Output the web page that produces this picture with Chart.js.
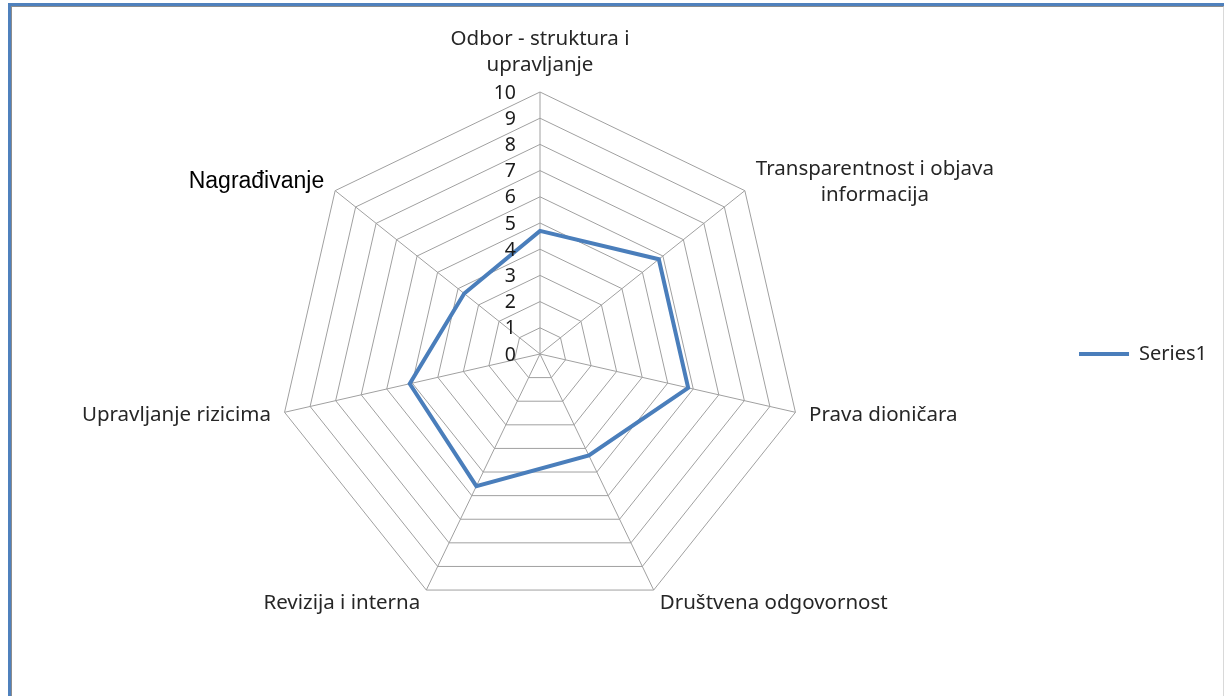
<!DOCTYPE html>
<html>
<head>
<meta charset="utf-8">
<script src="https://cdn.jsdelivr.net/npm/chart.js@4"></script>
<style>
  body { margin: 0; background: #fff; overflow: hidden; }
  #frame {
    position: absolute; left: 8px; top: 3px; width: 1213px; height: 720px;
    border-top: 3px solid #4f81bd; border-left: 3px solid #4f81bd;
  }
  #inner {
    position: absolute; left: 0; top: 0; right: 0; bottom: 0;
    border-top: 1px solid #8c8c8c; border-left: 1px solid #8c8c8c; border-right: 1px solid #d9d9d9;
  }
  canvas { position: absolute; left: 0; top: 0; }
</style>
</head>
<body>
<div id="frame"><div id="inner"><canvas id="radarChart" width="1211" height="700"></canvas></div></div>
<script>
const categories = [
    ['Odbor - struktura i', 'upravljanje'],
    ['Transparentnost i objava', 'informacija'],
    'Prava dioničara',
    'Društvena odgovornost',
    'Revizija i interna',
    'Upravljanje rizicima',
    'Nagrađivanje'
];
const series1 = [4.7, 5.8, 5.8, 4.3, 5.6, 5.1, 3.7];
const tickValues = [0, 1, 2, 3, 4, 5, 6, 7, 8, 9, 10];

// tick labels sit left of the vertical axis, like the original
const tickLabelPlugin = {
    id: 'tickLabels',
    afterDraw(chart) {
        const scale = chart.scales.r;
        const ctx = chart.ctx;
        ctx.save();
        ctx.font = '19.5px "Noto Sans"';
        ctx.fillStyle = '#1a1a1a';
        ctx.textAlign = 'right';
        ctx.textBaseline = 'middle';
        tickValues.forEach(v => {
            const d = scale.getDistanceFromCenterForValue(v);
            ctx.fillText(String(v), scale.xCenter - 24, scale.yCenter - d + 1);
        });
        ctx.restore();
    }
};

// category labels, multi-line ones centred line by line
const pointLabelPlugin = {
    id: 'pointLabelsCentered',
    afterDraw(chart) {
        const scale = chart.scales.r;
        const ctx = chart.ctx;
        const lineH = 26;
        ctx.save();
        ctx.textBaseline = 'middle';
        ctx.textAlign = 'center';
        chart.data.labels.forEach((lab, i) => {
            const lines = Array.isArray(lab) ? lab : [lab];
            const special = i === 6;
            ctx.font = special ? '23px "Liberation Sans"' : '20.5px "Noto Sans"';
            ctx.fillStyle = special ? '#000' : '#262626';
            const p = scale.getPointPosition(i, scale.drawingArea + 14);
            const w = Math.max(...lines.map(l => ctx.measureText(l).width));
            const h = lines.length * lineH;
            let cx = p.x;
            if (p.x > scale.xCenter + 1) cx = p.x + w / 2;
            else if (p.x < scale.xCenter - 1) cx = p.x - w / 2;
            let top = p.y - h / 2;
            if (Math.abs(p.x - scale.xCenter) <= 1 && p.y < scale.yCenter) top = p.y - h;
            lines.forEach((l, k) => ctx.fillText(l, cx, top + lineH * k + lineH / 2));
        });
        ctx.restore();
    }
};

const ctx = document.getElementById('radarChart').getContext('2d');
const radarChart = new Chart(ctx, {
    type: 'radar',
    data: {
        labels: categories,
        datasets: [{
            label: 'Series1',
            data: series1,
            borderColor: '#4a7ebb',
            backgroundColor: 'rgba(0,0,0,0)',
            borderWidth: 4,
            pointRadius: 0,
            fill: false
        }]
    },
    options: {
        responsive: false,
        animation: false,
        layout: { padding: { top: 85, bottom: 91, left: 0, right: 6 } },
        plugins: {
            legend: {
                position: 'right',
                labels: {
                    usePointStyle: true,
                    pointStyle: 'line',
                    pointStyleWidth: 50,
                    color: '#262626',
                    font: { family: 'Noto Sans', size: 20 }
                }
            },
            tooltip: { enabled: false }
        },
        scales: {
            r: {
                min: 0,
                max: 10,
                ticks: { stepSize: 1, display: false },
                grid: { color: '#a0a0a0', lineWidth: 1 },
                angleLines: { color: '#a0a0a0', lineWidth: 1 },
                pointLabels: { display: false }
            }
        }
    },
    plugins: [tickLabelPlugin, pointLabelPlugin]
});
</script>
</body>
</html>
